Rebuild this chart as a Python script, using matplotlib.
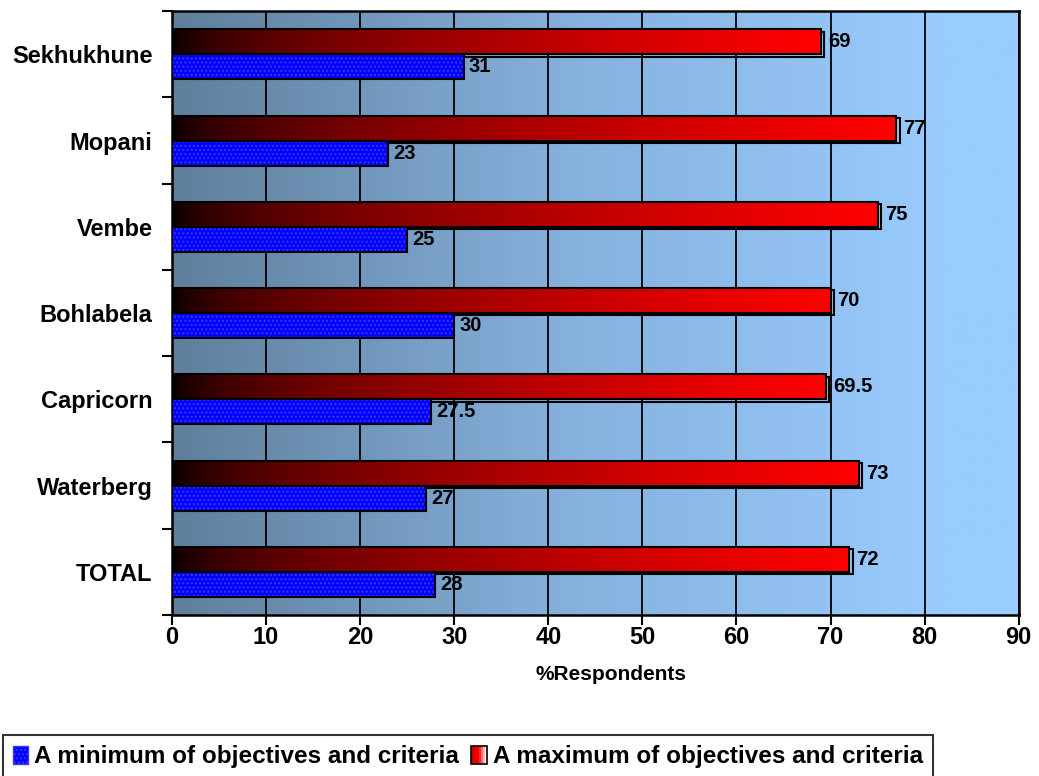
import numpy as np
import matplotlib
matplotlib.use("Agg")
import matplotlib.pyplot as plt
from matplotlib.colors import LinearSegmentedColormap
from matplotlib.patches import Rectangle, Patch
from matplotlib.legend_handler import HandlerBase

plt.rcParams['font.family'] = ['Liberation Sans', 'DejaVu Sans']
plt.rcParams['font.weight'] = 'bold'
plt.rcParams['hatch.linewidth'] = 1.0

categories = ["Sekhukhune", "Mopani", "Vembe", "Bohlabela", "Capricorn", "Waterberg", "TOTAL"]
minimum_vals = [31, 23, 25, 30, 27.5, 27, 28]
maximum_vals = [69, 77, 75, 70, 69.5, 73, 72]
minimum_labels = ["31", "23", "25", "30", "27.5", "27", "28"]
maximum_labels = ["69", "77", "75", "70", "69.5", "73", "72"]
xticks = [0, 10, 20, 30, 40, 50, 60, 70, 80, 90]

fig = plt.figure(figsize=(10.39, 7.76), dpi=100)
ax = fig.add_axes([0.1655, 0.2075, 0.815, 0.778])

n = len(categories)
ax.set_xlim(0, 90)
ax.set_ylim(-0.5, n - 0.5)

# steel-blue to light-blue horizontal gradient background
bg_cmap = LinearSegmentedColormap.from_list("bg", ["#5f7f9c", "#86b0dc", "#99ccff"])
grad = np.linspace(0, 1, 512).reshape(1, -1)
ax.imshow(grad, extent=[0, 90, -0.5, n - 0.5], aspect='auto', cmap=bg_cmap,
          vmin=0, vmax=0.92, zorder=0, interpolation='bilinear')

for x in xticks[1:]:
    ax.axvline(x, color='black', lw=1.3, zorder=1)

red_cmap = LinearSegmentedColormap.from_list("red", ["#000000", "#ff0000"])
h = 0.29
for i, cat in enumerate(categories):
    yc = n - 1 - i
    # maximum bar: dark-to-red gradient along its length
    vmax = maximum_vals[i]
    rg = (np.linspace(0, 1, 256) ** 0.55).reshape(1, -1)
    ax.imshow(rg, extent=[0, vmax, yc, yc + h], aspect='auto', cmap=red_cmap,
              vmin=0, vmax=1, zorder=3, interpolation='bilinear')
    ax.add_patch(Rectangle((0.35, yc - 0.025), vmax, h, fill=False, ec='black', lw=1.5, zorder=2.9))
    ax.add_patch(Rectangle((0, yc), vmax, h, fill=False, ec='black', lw=1.5, zorder=4))
    ax.text(vmax + 0.75, yc + h / 2, maximum_labels[i], va='center', ha='left',
            fontsize=14.5, fontweight='bold', zorder=5)
    # minimum bar: dotted blue
    vmin_ = minimum_vals[i]
    ax.add_patch(Rectangle((0, yc - h), vmin_, h, fc='#0000ff', ec='#3a3aff', hatch='....',
                           lw=0, zorder=3))
    ax.add_patch(Rectangle((0, yc - h), vmin_, h, fill=False, ec='black', lw=1.5, zorder=4))
    ax.text(vmin_ + 0.55, yc - h / 2, minimum_labels[i], va='center', ha='left',
            fontsize=14.5, fontweight='bold', zorder=5)

ax.set_xticks(xticks)
ax.set_xticklabels([str(t) for t in xticks], fontsize=17, fontweight='bold')
ax.tick_params(axis='x', length=7, width=1.5, direction='out', pad=1)

ax.set_yticks(range(n))
ax.set_yticklabels(categories[::-1], fontsize=17, fontweight='bold')
ax.tick_params(axis='y', which='major', length=0, pad=14)
ax.set_yticks(np.arange(-0.5, n, 1.0), minor=True)
ax.tick_params(axis='y', which='minor', length=7, width=1.5, direction='out')

for s in ax.spines.values():
    s.set_linewidth(1.8)
    s.set_color('black')

ax.set_xlabel("%Respondents", fontsize=15, fontweight='bold')
ax.xaxis.set_label_coords(0.518, -0.083)


class GradientHandler(HandlerBase):
    def create_artists(self, legend, orig_handle, xdescent, ydescent, width, height, fontsize, trans):
        artists = []
        cols = LinearSegmentedColormap.from_list("lg", ["#cc0000", "#ff0000", "#ffffff"])
        k = 8
        for j in range(k):
            artists.append(Rectangle((-xdescent + j * width / k, -ydescent), width / k, height,
                                     fc=cols(j / (k - 1)), ec='none', transform=trans))
        artists.append(Rectangle((-xdescent, -ydescent), width, height, fill=False,
                                 ec='black', lw=1.2, transform=trans))
        return artists


blue_handle = Patch(facecolor='#0000ff', edgecolor='#3a3aff', hatch='....',
                    label="A minimum of objectives and criteria")
red_handle = Patch(facecolor='#ff0000', edgecolor='black',
                   label="A maximum of objectives and criteria")
leg = fig.legend(handles=[blue_handle, red_handle], loc='lower left', bbox_to_anchor=(-0.009, -0.018),
                 ncol=2, frameon=True, fancybox=False, edgecolor='black',
                 handlelength=0.65, handleheight=0.75, handletextpad=0.25, columnspacing=0.5,
                 borderpad=0.4, prop={'weight': 'bold', 'size': 17.5},
                 handler_map={red_handle: GradientHandler()})
leg.get_frame().set_linewidth(1.5)

fig.savefig("out.png", dpi=100)
